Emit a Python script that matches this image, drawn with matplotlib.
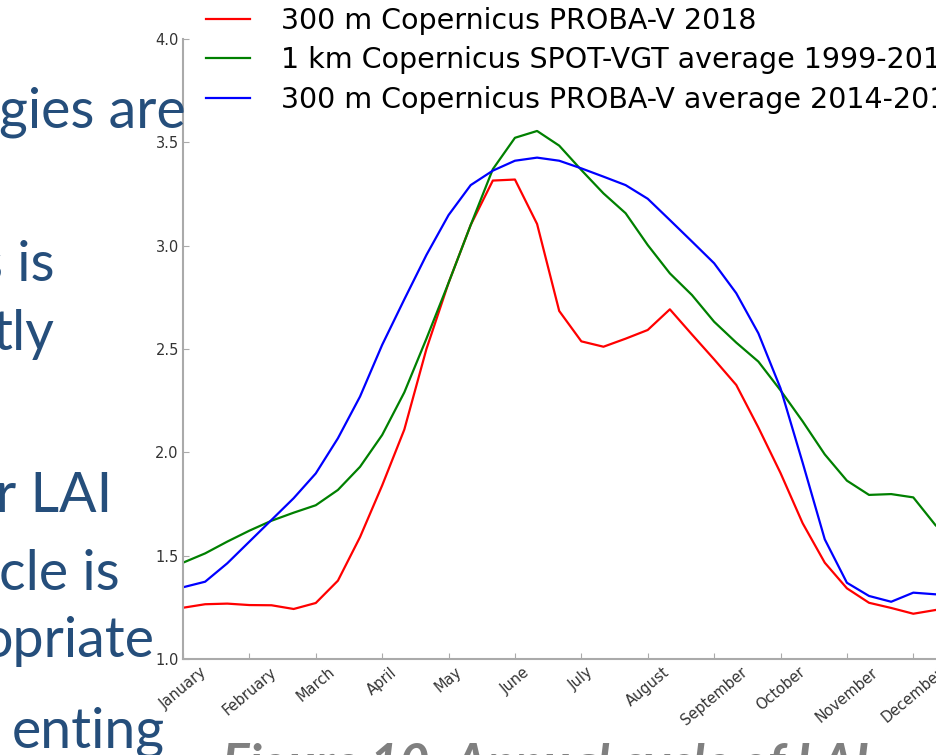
import numpy as np
import matplotlib
matplotlib.use("Agg")
import matplotlib.pyplot as plt

# dekad index (3 per month), LAI values
dekad = np.arange(36)
months = ["January", "February", "March", "April", "May", "June", "July",
          "August", "September", "October", "November", "December"]

lai_2018 = [1.248, 1.265, 1.268, 1.261, 1.260, 1.242, 1.271, 1.379, 1.590, 1.840,
            2.110, 2.500, 2.820, 3.100, 3.315, 3.320, 3.105, 2.684, 2.537, 2.511,
            2.550, 2.592, 2.692, 2.570, 2.450, 2.326, 2.120, 1.900, 1.657, 1.466,
            1.342, 1.272, 1.247, 1.219, 1.237, 1.250]
lai_vgt = [1.466, 1.511, 1.568, 1.621, 1.669, 1.708, 1.744, 1.818, 1.930, 2.084,
           2.290, 2.550, 2.820, 3.100, 3.370, 3.522, 3.555, 3.484, 3.366, 3.253,
           3.157, 3.003, 2.866, 2.761, 2.632, 2.531, 2.439, 2.300, 2.150, 1.990,
           1.863, 1.794, 1.798, 1.782, 1.648, 1.550]
lai_pv_avg = [1.347, 1.374, 1.463, 1.568, 1.673, 1.778, 1.898, 2.068, 2.270, 2.520,
              2.740, 2.955, 3.148, 3.293, 3.363, 3.411, 3.426, 3.411, 3.374, 3.334,
              3.293, 3.227, 3.124, 3.020, 2.915, 2.770, 2.576, 2.310, 1.950, 1.579,
              1.369, 1.305, 1.277, 1.321, 1.313, 1.320]

labels = ["300 m Copernicus PROBA-V 2018",
          "1 km Copernicus SPOT-VGT average 1999-2014",
          "300 m Copernicus PROBA-V average 2014-2017"]

# bits of the slide around the chart
slide_lines = ["gies are", "s is", "tly", "r LAI", "cle is", "opriate", "enting"]
slide_pos = [(186, 128), (55, 281), (55, 350), (112, 512), (120, 590), (155, 657), (165, 748)]
caption = "Figure 10: Annual cycle of LAI"

W, H = 937, 755
fig = plt.figure(figsize=(W / 100, H / 100), dpi=100)
fig.patch.set_facecolor("white")

def px(x, y):
    return x / W, 1 - y / H

ax = fig.add_axes([183 / W, 96 / H, 35 * 22.13 / W, 620 / H])
l1, = ax.plot(dekad, lai_2018, color="r", lw=1.6)
l2, = ax.plot(dekad, lai_vgt, color="g", lw=1.6)
l3, = ax.plot(dekad, lai_pv_avg, color="b", lw=1.6)

ax.set_xlim(0, 35)
ax.set_ylim(1.0, 4.0)
ax.set_yticks(np.arange(1.0, 4.01, 0.5))
ax.set_xticks(dekad[::3])
ax.set_xticklabels(months, rotation=40, ha="center")
ax.tick_params(direction="in", length=4, color="#aaaaaa", labelcolor="#333333",
               labelsize=10.5, pad=3)
ax.tick_params(axis="x", pad=4)
for s in ["top", "right"]:
    ax.spines[s].set_visible(False)
for s in ["left", "bottom"]:
    ax.spines[s].set_color("#aaaaaa")
    ax.spines[s].set_linewidth(1.5)

fig.legend([l1, l2, l3], labels, loc="upper left",
           bbox_to_anchor=px(206, 7), frameon=False, fontsize=20.5,
           handlelength=1.55, handletextpad=1.1, labelspacing=0.40,
           borderpad=0, borderaxespad=0)

for txt, (x, y) in zip(slide_lines, slide_pos):
    fig.text(*px(x, y), txt, ha="right", va="baseline", fontsize=40,
             color="#254E7B", family=["Lato", "DejaVu Sans"])

fig.text(*px(222, 780), caption, ha="left", va="baseline", fontsize=37,
         color="#808080", fontweight="bold", fontstyle="italic",
         family=["Lato", "DejaVu Sans"])

fig.savefig("out.png", dpi=100)
